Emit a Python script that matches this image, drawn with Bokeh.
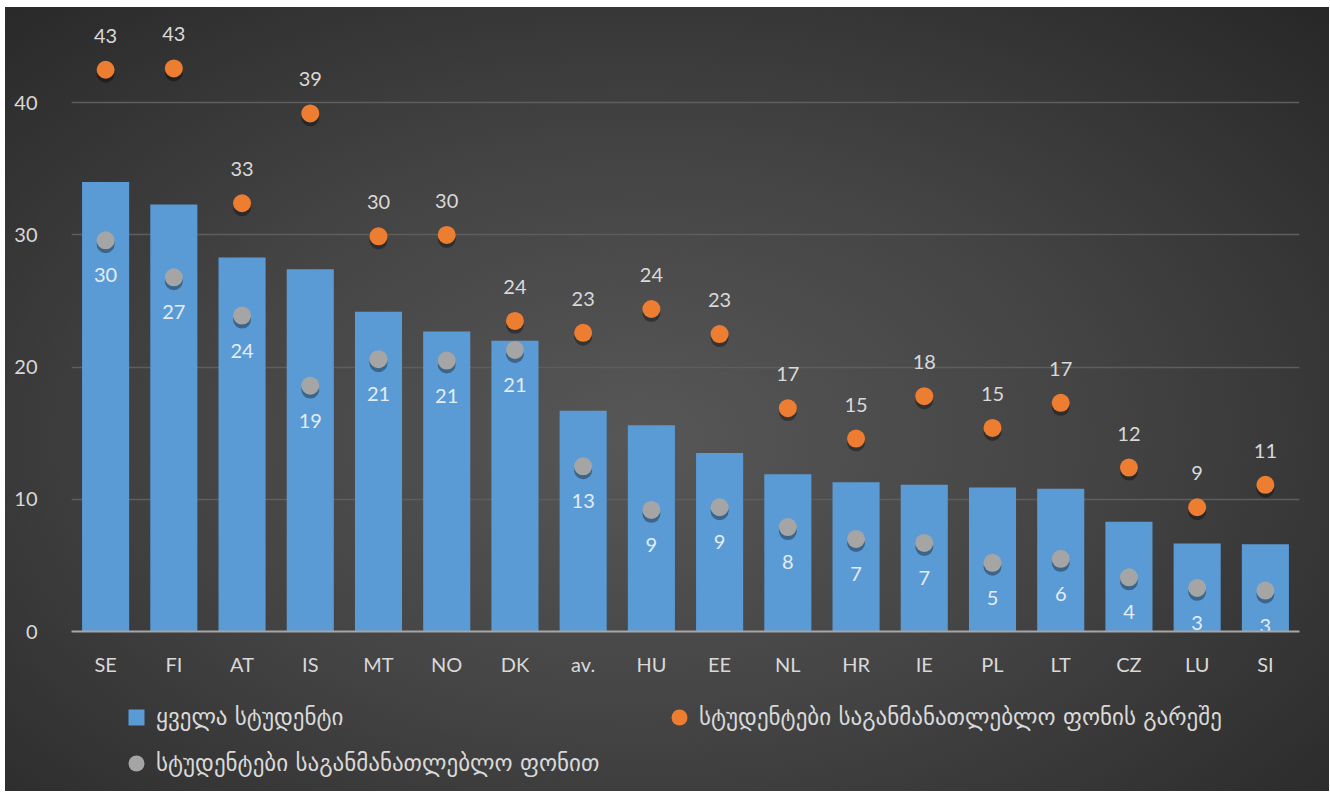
from bokeh.plotting import figure
from bokeh.layouts import column
from bokeh.models import ColumnDataSource, Legend, LegendItem, FixedTicker, Range1d
from bokeh.transform import dodge
from bokeh.core.properties import value
from bokeh.embed import file_html
from bokeh.resources import INLINE

countries = ["SE", "FI", "AT", "IS", "MT", "NO", "DK", "av.", "HU", "EE",
             "NL", "HR", "IE", "PL", "LT", "CZ", "LU", "SI"]
all_students = [34.0, 32.3, 28.3, 27.4, 24.2, 22.7, 22.0, 16.7, 15.6, 13.5,
                11.9, 11.3, 11.1, 10.9, 10.8, 8.3, 6.65, 6.6]
without_bg = [42.5, 42.6, 32.4, 39.2, 29.9, 30.0, 23.5, 22.6, 24.4, 22.5,
              16.9, 14.6, 17.8, 15.4, 17.3, 12.4, 9.4, 11.1]
without_bg_labels = ["43", "43", "33", "39", "30", "30", "24", "23", "24", "23",
                     "17", "15", "18", "15", "17", "12", "9", "11"]
with_bg = [29.6, 26.8, 23.9, 18.6, 20.6, 20.5, 21.3, 12.5, 9.2, 9.4,
           7.9, 7.0, 6.7, 5.2, 5.5, 4.1, 3.3, 3.1]
with_bg_labels = ["30", "27", "24", "19", "21", "21", "21", "13", "9", "9",
                  "8", "7", "7", "5", "6", "4", "3", "3"]
y_ticks = [0, 10, 20, 30, 40]

series_names = ["ყველა სტუდენტი",
                "სტუდენტები საგანმანათლებლო ფონის გარეშე",
                "სტუდენტები საგანმანათლებლო ფონით"]

BAR_C = "#5b9bd5"
ORANGE_C = "#ed7d31"
GRAY_C = "#a5a5a5"

src = ColumnDataSource(dict(cat=countries, all=all_students,
                            wo=without_bg, wol=without_bg_labels,
                            wi=with_bg, wil=with_bg_labels))

FONT = "Lato"
TXT = "#d9d9d9"

p = figure(x_range=countries, y_range=Range1d(0, 46),
           frame_width=1228, frame_height=608,
           output_backend="svg", toolbar_location=None,
           min_border_left=66, min_border_right=30, min_border_top=16,
           min_border_bottom=50)
p.background_fill_alpha = 0
p.border_fill_alpha = 0
p.outline_line_color = None

bars = p.vbar(x="cat", top="all", width=0.69, source=src,
              fill_color=BAR_C, line_color=None)

# shadows
p.scatter(x="cat", y=dodge("wo", -0.3), source=src, size=18,
          fill_color="black", fill_alpha=0.35, line_color=None)
p.scatter(x="cat", y=dodge("wi", -0.3), source=src, size=18,
          fill_color="black", fill_alpha=0.35, line_color=None)

orange = p.scatter(x="cat", y="wo", source=src, size=18,
                   fill_color=ORANGE_C, line_color=None)
gray = p.scatter(x="cat", y="wi", source=src, size=18,
                 fill_color=GRAY_C, line_color=None)

p.text(x="cat", y="wo", text="wol", source=src, y_offset=-34,
       text_align="center", text_baseline="middle",
       text_font=value(FONT), text_font_size="20px", text_color=TXT)
p.text(x="cat", y="wi", text="wil", source=src, y_offset=35,
       text_align="center", text_baseline="middle",
       text_font=value(FONT), text_font_size="20px", text_color="#e4ecf5")

# axes
p.xaxis.axis_line_color = "#a6a6a6"
p.xaxis.axis_line_width = 2
p.xaxis.major_tick_line_color = None
p.xaxis.major_tick_out = 0
p.xaxis.minor_tick_line_color = None
p.xaxis.major_label_text_font = FONT
p.xaxis.major_label_text_font_size = "20px"
p.xaxis.major_label_text_color = TXT
p.xaxis.major_label_standoff = 20

p.yaxis.ticker = FixedTicker(ticks=y_ticks)
p.yaxis.axis_line_color = None
p.yaxis.major_tick_line_color = None
p.yaxis.major_tick_out = 0
p.yaxis.minor_tick_line_color = None
p.yaxis.major_label_text_font = FONT
p.yaxis.major_label_text_font_size = "20px"
p.yaxis.major_label_text_color = TXT
p.yaxis.major_label_standoff = 34

p.xgrid.grid_line_color = None
p.ygrid.grid_line_color = "#5e5e5e"
p.ygrid.grid_line_width = 1.5
p.ygrid.ticker = FixedTicker(ticks=y_ticks)

# legend strip: a second figure under the chart; its key renderers use the
# same data but fall outside its (empty) y range, so only the legend shows
lg = figure(x_range=countries, y_range=Range1d(-20, -10),
            width=1324, height=110, output_backend="svg", toolbar_location=None,
            x_axis_type=None, y_axis_type=None,
            min_border=0, min_border_left=0, min_border_right=0,
            min_border_top=0, min_border_bottom=0)
lg.background_fill_alpha = 0
lg.border_fill_alpha = 0
lg.outline_line_color = None
lg.grid.grid_line_color = None
k_bar = lg.scatter(x="cat", y="all", source=src, marker="square", size=16,
                   fill_color=BAR_C, line_color=None)
k_or = lg.scatter(x="cat", y="wo", source=src, marker="circle", size=16,
                  fill_color=ORANGE_C, line_color=None)
k_gr = lg.scatter(x="cat", y="wi", source=src, marker="circle", size=16,
                  fill_color=GRAY_C, line_color=None)

legend = Legend(items=[LegendItem(label=series_names[0], renderers=[k_bar]),
                       LegendItem(label=series_names[1], renderers=[k_or]),
                       LegendItem(label=series_names[2], renderers=[k_gr])],
                orientation="horizontal", ncols=2, location=(45, 8),
                background_fill_alpha=0, border_line_color=None,
                label_text_font="DejaVu Sans", label_text_font_size="23px",
                label_text_color=TXT, glyph_width=40, glyph_height=40,
                label_standoff=0, spacing=6, label_width=497,
                padding=0, margin=0)
lg.add_layout(legend, "center")

layout = column(p, lg, spacing=0)
layout.margin = (7, 0, 0, 5)
layout.styles = {"background": "radial-gradient(ellipse 75% 80% at 48% 55%, #575757 0%, #444444 45%, #262626 100%)"}

open("out.html", "w").write(file_html(layout, INLINE))
